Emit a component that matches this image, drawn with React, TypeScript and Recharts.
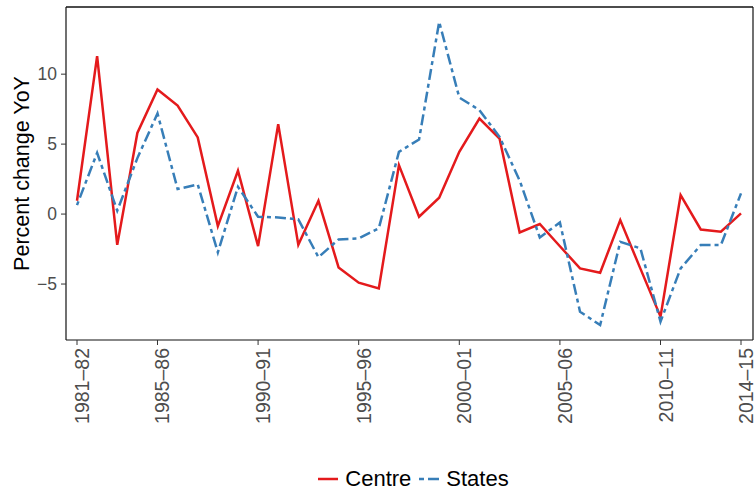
import React from 'react';
import { LineChart, Line, XAxis, YAxis, Legend } from 'recharts';

const years = [
  '1981–82', '1982–83', '1983–84', '1984–85', '1985–86', '1986–87', '1987–88', '1988–89',
  '1989–90', '1990–91', '1991–92', '1992–93', '1993–94', '1994–95', '1995–96', '1996–97',
  '1997–98', '1998–99', '1999–00', '2000–01', '2001–02', '2002–03', '2003–04', '2004–05',
  '2005–06', '2006–07', '2007–08', '2008–09', '2009–10', '2010–11', '2011–12', '2012–13',
  '2013–14', '2014–15',
];

const centre = [
  0.95, 11.29, -2.2, 5.8, 8.9, 7.76, 5.48, -0.86, 3.1, -2.29, 6.43, -2.2, 0.95, -3.81,
  -4.9, -5.31, 3.5, -0.19, 1.17, 4.45, 6.83, 5.4, -1.31, -0.71, -2.3, -3.88, -4.19,
  -0.43, -3.9, -7.33, 1.36, -1.1, -1.26, 0.05,
];

const states = [
  0.64, 4.38, 0.24, 4.0, 7.19, 1.79, 2.12, -2.74, 1.95, -0.19, -0.24, -0.38, -3.08,
  -1.81, -1.74, -1.02, 4.45, 5.33, 13.74, 8.33, 7.43, 5.52, 2.4, -1.67, -0.6, -6.98,
  -7.93, -1.98, -2.45, -7.69, -3.88, -2.21, -2.21, 1.48,
];

const xTickLabels = ['1981–82', '1985–86', '1990–91', '1995–96', '2000–01', '2005–06', '2010–11', '2014–15'];
const yTicks = [-5, 0, 5, 10];

const data = years.map((y, i) => ({ year: y, Centre: centre[i], States: states[i] }));

const FONT = '"Liberation Sans", Arial, Helvetica, sans-serif';
const RED = '#E41A1C';
const BLUE = '#377EB8';
const BORDER = '#111111';
const TICK_COLOR = '#333333';
const LABEL_COLOR = '#4D4D4D';
const X_TICK_SIZE = 5;
const X_TICK_MARGIN = 3;
const DASH = '4 4 11 4';
const Y_DOMAIN: [number, number] = [-9, 14.8];

const XTick = (props: any) => {
  const { x, y, payload } = props;
  if (!xTickLabels.includes(payload.value)) return null;
  return (
    <g>
      <line
        x1={x}
        x2={x}
        y1={y - X_TICK_MARGIN - X_TICK_SIZE}
        y2={y - X_TICK_MARGIN}
        stroke={TICK_COLOR}
        strokeWidth={1}
      />
      <text
        transform={`translate(${x},${y}) rotate(-90)`}
        textAnchor="end"
        dy={12}
        fill={LABEL_COLOR}
        fontSize={19.5}
        fontFamily={FONT}
      >
        {payload.value}
      </text>
    </g>
  );
};

const fmtY = (v: number) => (v < 0 ? `−${Math.abs(v)}` : `${v}`);

const YTitle = (props: any) => {
  const vb = props.viewBox || { x: 0, y: 0, width: 66, height: 333 };
  const cx = vb.x + 22;
  const cy = vb.y + vb.height / 2;
  return (
    <text
      x={cx}
      y={cy}
      transform={`rotate(-90 ${cx} ${cy})`}
      textAnchor="middle"
      dominantBaseline="central"
      fontSize={21.5}
      fontFamily={FONT}
      fill="#000"
    >
      Percent change YoY
    </text>
  );
};

const LegendContent = () => (
  <div
    style={{
      height: 51,
      boxSizing: 'border-box',
      paddingTop: 27,
      paddingLeft: 73,
      display: 'flex',
      justifyContent: 'center',
      alignItems: 'center',
      fontFamily: FONT,
      fontSize: 22,
      color: '#000',
      lineHeight: '22px',
    }}
  >
    <svg width={20} height={10} style={{ marginRight: 7 }}>
      <line x1={0} x2={20} y1={5} y2={5} stroke={RED} strokeWidth={2.5} />
    </svg>
    <span style={{ marginRight: 8 }}>Centre</span>
    <svg width={22} height={10} style={{ marginRight: 5 }}>
      <line x1={0} x2={22} y1={5} y2={5} stroke={BLUE} strokeWidth={2.5} strokeDasharray="5 4 11 4" />
    </svg>
    <span>States</span>
  </div>
);

export default function App() {
  return (
    <div style={{ position: 'absolute', left: 0, top: 0, width: 756, height: 491, background: '#fff' }}>
      <LineChart width={756} height={491} data={data} margin={{ top: 6, right: 2, bottom: 0, left: 0 }}>
        <XAxis
          dataKey="year"
          interval={0}
          tick={<XTick />}
          tickLine={false}
          tickSize={X_TICK_SIZE}
          tickMargin={X_TICK_MARGIN}
          height={100}
          padding={{ left: 11, right: 12 }}
          axisLine={{ stroke: BORDER, strokeWidth: 1.2 }}
        />
        <XAxis
          xAxisId="top"
          dataKey="year"
          orientation="top"
          tick={false}
          tickLine={false}
          height={1}
          padding={{ left: 11, right: 12 }}
          axisLine={{ stroke: BORDER, strokeWidth: 1.4 }}
        />
        <YAxis
          type="number"
          domain={Y_DOMAIN}
          ticks={yTicks}
          allowDataOverflow
          width={66}
          tickSize={5}
          tickMargin={4}
          tickFormatter={fmtY}
          tick={{ fill: LABEL_COLOR, fontSize: 17.5, fontFamily: FONT }}
          tickLine={{ stroke: TICK_COLOR }}
          axisLine={{ stroke: BORDER, strokeWidth: 1.2 }}
          label={<YTitle />}
        />
        <YAxis
          yAxisId="right"
          orientation="right"
          type="number"
          domain={Y_DOMAIN}
          allowDataOverflow
          width={1}
          tick={false}
          tickLine={false}
          axisLine={{ stroke: BORDER, strokeWidth: 1.2 }}
        />
        <Legend verticalAlign="bottom" content={<LegendContent />} />
        <Line
          type="linear"
          dataKey="Centre"
          stroke={RED}
          strokeWidth={2.5}
          dot={false}
          activeDot={false}
          isAnimationActive={false}
        />
        <Line
          type="linear"
          dataKey="States"
          stroke={BLUE}
          strokeWidth={2.5}
          strokeDasharray={DASH}
          dot={false}
          activeDot={false}
          isAnimationActive={false}
        />
      </LineChart>
    </div>
  );
}
